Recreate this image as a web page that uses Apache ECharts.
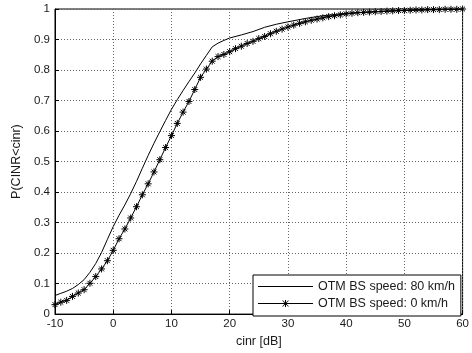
<!DOCTYPE html>
<html>
<head>
<meta charset="utf-8">
<script src="https://cdn.jsdelivr.net/npm/echarts@6/dist/echarts.min.js"></script>
<style>html,body{margin:0;padding:0;background:#fff}#c{width:472px;height:353px}</style>
</head>
<body>
<div id="c"></div>
<script>
var seriesNames = ['OTM BS speed: 80 km/h', 'OTM BS speed: 0 km/h'];
var xTicks = [-10, 0, 10, 20, 30, 40, 50, 60];
var yTicks = [0, 0.1, 0.2, 0.3, 0.4, 0.5, 0.6, 0.7, 0.8, 0.9, 1];

// 80 km/h (solid line)
var cinr80 = [-10, -9, -8, -7, -6, -5, -4, -3, -2, -1, 0, 1, 2, 3, 4, 5, 6, 7, 8, 9, 10, 11, 12, 13, 14, 15, 16, 17, 18, 19, 20, 22, 24, 26, 28, 30, 33, 36, 40, 45, 50, 55, 60];
var p80 = [0.061, 0.068, 0.075, 0.084, 0.097, 0.113, 0.137, 0.166, 0.202, 0.245, 0.287, 0.324, 0.358, 0.395, 0.435, 0.478, 0.52, 0.56, 0.598, 0.635, 0.671, 0.703, 0.733, 0.762, 0.79, 0.82, 0.848, 0.876, 0.888, 0.897, 0.905, 0.915, 0.926, 0.94, 0.95, 0.958, 0.969, 0.978, 0.986, 0.991, 0.995, 0.998, 1.0];

// 0 km/h (line with * markers)
var cinr0 = [-10, -9, -8, -7, -6, -5, -4, -3, -2, -1, 0, 1, 2, 3, 4, 5, 6, 7, 8, 9, 10, 11, 12, 13, 14, 15, 16, 17, 18, 19, 20, 21, 22, 23, 24, 25, 26, 27, 28, 29, 30, 31, 32, 33, 34, 35, 36, 37, 38, 39, 40, 41, 42, 43, 44, 45, 46, 47, 48, 49, 50, 51, 52, 53, 54, 55, 56, 57, 58, 59, 60];
var p0 = [0.031, 0.039, 0.045, 0.058, 0.069, 0.080, 0.101, 0.123, 0.148, 0.175, 0.209, 0.247, 0.279, 0.315, 0.352, 0.391, 0.427, 0.466, 0.506, 0.546, 0.585, 0.625, 0.662, 0.697, 0.736, 0.776, 0.803, 0.829, 0.844, 0.851, 0.860, 0.870, 0.878, 0.887, 0.894, 0.903, 0.910, 0.919, 0.927, 0.934, 0.941, 0.947, 0.953, 0.958, 0.963, 0.967, 0.971, 0.975, 0.978, 0.981, 0.984, 0.986, 0.988, 0.989, 0.990, 0.991, 0.992, 0.993, 0.994, 0.995, 0.995, 0.996, 0.997, 0.997, 0.998, 0.998, 0.998, 0.999, 0.999, 0.999, 1.0];

function pairs(xs, ys) { return xs.map(function (x, i) { return [x, ys[i]]; }); }

var star = 'path://M5,0L5,10M0,5L10,5M1.5,1.5L8.5,8.5M1.5,8.5L8.5,1.5';
var iconLine = 'path://M0,4.5L55,4.5L55,5.5L0,5.5Z';
var iconStar = 'path://M0,4.5L55,4.5L55,5.5L0,5.5Z' +
  'M27,1.5L28,1.5L28,8.5L27,8.5Z' +
  'M24,2L25,2L31,8L30,8Z' +
  'M30,2L31,2L25,8L24,8Z';
var font = 'Liberation Sans';
var txt = '#1a1a1a';

var chart = echarts.init(document.getElementById('c'), null, { renderer: 'canvas' });
chart.setOption({
  backgroundColor: '#fff',
  animation: false,
  grid: { left: 55, right: 8, top: 9, bottom: 35, show: true, borderColor: '#000', borderWidth: 1 },
  xAxis: {
    type: 'value', min: xTicks[0], max: xTicks[xTicks.length - 1], interval: 10,
    name: 'cinr [dB]', nameLocation: 'middle', nameGap: 20,
    nameTextStyle: { fontFamily: font, fontSize: 12.5, color: txt },
    axisLine: { show: true, onZero: false, lineStyle: { color: '#000', width: 1 } },
    axisTick: { show: true, inside: true, length: 4, lineStyle: { color: '#000' } },
    axisLabel: { fontFamily: font, fontSize: 11.5, color: txt, margin: 4 },
    splitLine: { show: true, lineStyle: { color: '#666', type: [1, 2], width: 1 } }
  },
  yAxis: {
    type: 'value', min: 0, max: 1, interval: 0.1,
    name: 'P(CINR<cinr)', nameLocation: 'middle', nameGap: 30,
    nameTextStyle: { fontFamily: font, fontSize: 12.5, color: txt },
    axisLine: { show: true, onZero: false, lineStyle: { color: '#000', width: 1 } },
    axisTick: { show: true, inside: true, length: 4, lineStyle: { color: '#000' } },
    axisLabel: { fontFamily: font, fontSize: 11.5, color: txt, margin: 5 },
    splitLine: { show: true, lineStyle: { color: '#666', type: [1, 2], width: 1 } }
  },
  legend: {
    orient: 'vertical', left: 253, top: 275,
    backgroundColor: '#fff', borderColor: '#000', borderWidth: 1,
    padding: [5, 6, 6, 5], itemGap: 4, itemWidth: 55, itemHeight: 10,
    itemStyle: { color: '#000', borderWidth: 0 },
    textStyle: { fontFamily: font, fontSize: 12.5, color: txt },
    data: [
      { name: seriesNames[0], icon: iconLine },
      { name: seriesNames[1], icon: iconStar }
    ]
  },
  series: [
    {
      name: seriesNames[0], type: 'line', data: pairs(cinr80, p80),
      symbol: 'none', smooth: false,
      lineStyle: { color: '#000', width: 1 },
      itemStyle: { color: '#000' }
    },
    {
      name: seriesNames[1], type: 'line', data: pairs(cinr0, p0),
      symbol: star, symbolSize: 7, showSymbol: true,
      lineStyle: { color: '#000', width: 1 },
      itemStyle: { color: '#000', borderColor: '#000', borderWidth: 1 }
    }
  ]
});
</script>
</body>
</html>
